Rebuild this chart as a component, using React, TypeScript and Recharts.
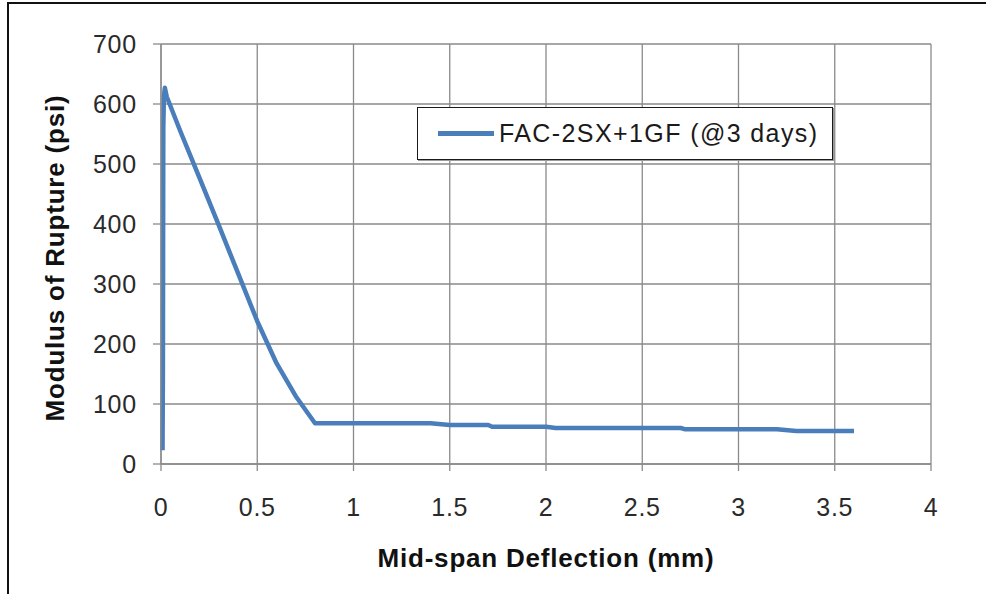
import React from "react";
import {
  LineChart,
  Line,
  XAxis,
  YAxis,
  CartesianGrid,
  Label,
} from "recharts";

// Mid-span deflection (mm) and modulus of rupture (psi) for the flexural test
const deflection = [
  0.008, 0.01, 0.012, 0.015, 0.02, 0.03, 0.1, 0.2, 0.3, 0.4, 0.5, 0.6, 0.7, 0.8,
  1.4, 1.5, 1.7, 1.72, 2.0, 2.05, 2.7, 2.72, 3.2, 3.3, 3.6,
];
const rupture = [
  23, 160, 560, 612, 627, 612, 555, 477, 398, 318, 238, 168, 113, 68, 68, 65,
  65, 62, 62, 60, 60, 58, 58, 55, 55,
];

const xTicks = [0, 0.5, 1, 1.5, 2, 2.5, 3, 3.5, 4];
const yTicks = [0, 100, 200, 300, 400, 500, 600, 700];

const seriesName = "FAC-2SX+1GF (@3 days)";
const xTitle = "Mid-span Deflection (mm)";
const yTitle = "Modulus of Rupture (psi)";

const data = deflection.map((x, i) => ({ x, y: rupture[i] }));

const FONT = '"Liberation Sans", Arial, Helvetica, sans-serif';
const GRID = "#8a8a8a";
const BLUE = "#4a7ebb";

const tickStyle = {
  fill: "#2a2a2a",
  fontSize: 25,
  fontFamily: FONT,
  letterSpacing: 0.8,
};

// Series key box drawn over the plot's upper right
const LegendBox = () => (
  <div
    style={{
      position: "absolute",
      left: 417,
      top: 107,
      width: 414,
      height: 51,
      border: "1px solid #1a1a1a",
      boxShadow: "1px 1px 0 #9a9a9a",
      background: "#fff",
      display: "flex",
      alignItems: "center",
      fontFamily: FONT,
      fontSize: 25,
      letterSpacing: 1.4,
      color: "#1a1a1a",
    }}
  >
    <div
      style={{
        width: 56,
        height: 4.5,
        background: BLUE,
        marginLeft: 20,
        marginRight: 5,
      }}
    />
    <span style={{ lineHeight: "25px", whiteSpace: "nowrap" }}>{seriesName}</span>
  </div>
);

export default function App() {
  return (
    <div
      style={{
        position: "fixed",
        left: 0,
        top: 0,
        width: 986,
        height: 594,
        background: "#fff",
        overflow: "hidden",
      }}
    >
      <div
        style={{
          position: "absolute",
          left: 7,
          top: 2,
          width: 990,
          height: 600,
          borderLeft: "2px solid #111",
          borderTop: "2px solid #111",
          boxSizing: "border-box",
        }}
      />
      <LineChart
        width={986}
        height={594}
        data={data}
        margin={{ top: 44, right: 55, left: 101, bottom: 50 }}
        style={{ position: "absolute", left: 0, top: 0 }}
      >
        <CartesianGrid stroke={GRID} strokeWidth={1.3} />
        <XAxis
          dataKey="x"
          type="number"
          domain={[0, 4]}
          ticks={xTicks}
          interval={0}
          height={80}
          tickSize={7}
          tickMargin={27}
          tick={tickStyle}
          axisLine={{ stroke: GRID, strokeWidth: 1.3 }}
          tickLine={{ stroke: GRID, strokeWidth: 1.3 }}
          tickFormatter={(v: number) => String(v)}
        >
          <Label
            content={({ viewBox }: any) => (
              <text
                x={viewBox.x + viewBox.width / 2}
                y={567}
                textAnchor="middle"
                fontFamily={FONT}
                fontWeight="bold"
                fontSize={26}
                letterSpacing={0.8}
                fill="#111"
              >
                {xTitle}
              </text>
            )}
          />
        </XAxis>
        <YAxis
          type="number"
          domain={[0, 700]}
          ticks={yTicks}
          interval={0}
          width={60}
          tickSize={8}
          tickMargin={16}
          tick={tickStyle}
          axisLine={{ stroke: GRID, strokeWidth: 1.3 }}
          tickLine={{ stroke: GRID, strokeWidth: 1.3 }}
        >
          <Label
            content={({ viewBox }: any) => {
              const cx = 64;
              const cy = viewBox.y + viewBox.height / 2 + 4;
              return (
                <text
                  x={cx}
                  y={cy}
                  transform={`rotate(-90 ${cx} ${cy})`}
                  textAnchor="middle"
                  fontFamily={FONT}
                  fontWeight="bold"
                  fontSize={26}
                  letterSpacing={0.8}
                  fill="#111"
                >
                  {yTitle}
                </text>
              );
            }}
          />
        </YAxis>
        <Line
          type="linear"
          dataKey="y"
          name={seriesName}
          stroke={BLUE}
          strokeWidth={4.5}
          dot={false}
          activeDot={false}
          isAnimationActive={false}
          strokeLinejoin="round"
          strokeLinecap="butt"
        />
      </LineChart>
      <LegendBox />
    </div>
  );
}
